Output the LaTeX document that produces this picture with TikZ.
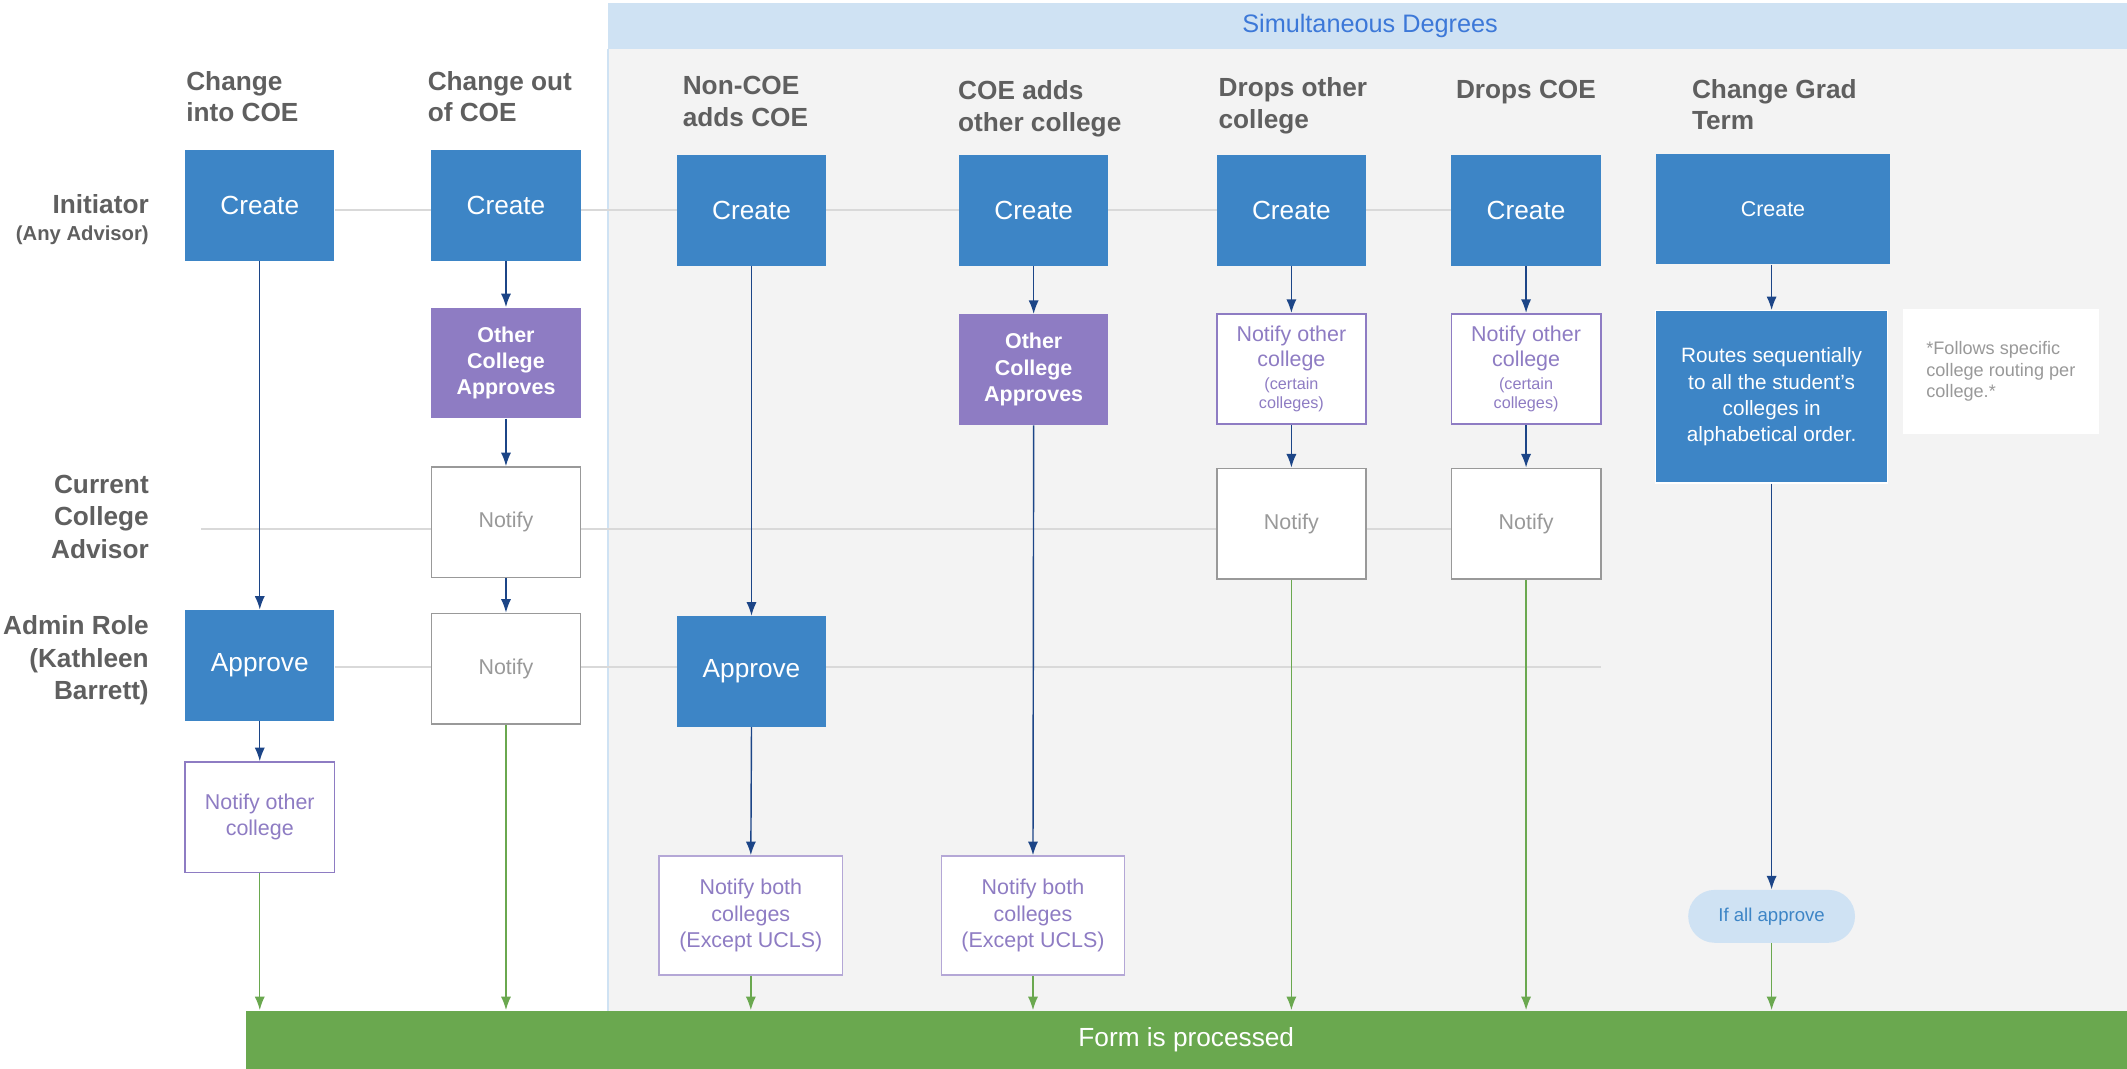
\documentclass[tikz,border=0pt]{standalone}
\usepackage{fontspec}
\setmainfont{Liberation Sans}
\usetikzlibrary{arrows.meta,backgrounds}

\definecolor{boxBlue}{HTML}{3D85C6}
\definecolor{boxPurple}{HTML}{8E7CC3}
\definecolor{lightPurple}{HTML}{B4A7D6}
\definecolor{notifyGray}{HTML}{999999}
\definecolor{headGray}{HTML}{5F5F5F}
\definecolor{arrowBlue}{HTML}{1C4587}
\definecolor{formGreen}{HTML}{6AA84F}
\definecolor{laneGray}{HTML}{D9D9D9}
\definecolor{simGray}{HTML}{F3F3F3}
\definecolor{simBand}{HTML}{CFE2F3}
\definecolor{simText}{HTML}{3C78D8}

\newcommand{\fs}[2]{\fontsize{#1}{#2}\selectfont}

\begin{document}
\begin{tikzpicture}[x=0.02cm,y=-0.02cm,
    % 统一的方框样式
    box_base/.style={minimum width=2.2cm,minimum height=1.63cm,inner sep=2pt,align=center},
    create_box/.style={box_base,fill=boxBlue,text=white,font=\fs{11}{13}},
    college_box/.style={box_base,fill=boxPurple,text=white,font=\bfseries\fs{9}{11}},
    notify_box/.style={box_base,fill=white,draw=notifyGray,line width=0.7pt,text=notifyGray,font=\fs{9}{11}},
    other_box/.style={box_base,fill=white,draw=boxPurple,line width=0.7pt,text=boxPurple,font=\fs{9}{10.8}},
    both_box/.style={other_box,draw=lightPurple,minimum width=2.7cm,minimum height=1.76cm,font=\fs{9}{11}},
    head_text/.style={anchor=north west,inner sep=0pt,align=left,text=headGray,font=\bfseries\fs{11}{13.3}},
    lane_text/.style={anchor=east,inner sep=0pt,align=right,text=headGray,font=\bfseries\fs{11}{13.6}},
    lane_line/.style={laneGray,line width=0.8pt},
    flow_arrow/.style={arrowBlue,line width=0.6pt,-{Latex[length=2mm,width=1.5mm]}},
    done_arrow/.style={formGreen,line width=0.6pt,-{Latex[length=2mm,width=1.5mm]}}
]
    \useasboundingbox (0,0) rectangle (1568,788);

    % --- 宏: 绿色箭头连到底部 ---
    \newcommand{\tobar}[1]{\draw[done_arrow] (#1.south) -- (#1.south |- bar.north);}

    % --- 泳道标题 ---
    \node[lane_text] (laneInit) at (110,162) {Initiator\\[-2.3pt]\fs{8.5}{10}(Any Advisor)};
    \node[lane_text] (laneCur) at (110,381) {Current\\College\\Advisor};
    \node[lane_text] (laneAdmin) at (110,487) {Admin Role\\(Kathleen\\Barrett)};

    % --- 列标题 ---
    \node[head_text] (hdInto) at (137,52) {Change\\into COE};
    \node[head_text] (hdOut) at (315,52) {Change out\\of COE};
    \node[head_text] (hdNon) at (503,56) {Non-COE\\adds COE};
    \node[head_text] (hdAdds) at (706,59) {COE adds\\other college};
    \node[head_text] (hdDropO) at (898,57) {Drops other\\college};
    \node[head_text] (hdDropC) at (1073,59) {Drops COE};
    \node[head_text] (hdGrad) at (1247,58) {Change Grad\\Term};

    % 1. Change into COE
    \node[create_box] (cr1) at (191.5,151.5) {Create};
    \node[create_box] (ap1) at (191.5,490.5) {Approve};
    \node[other_box] (no1) at (191.5,602.5) {Notify other\\college};

    % 2. Change out of COE
    \node[create_box] (cr2) at (373,151.5) {Create};
    \node[college_box] (oc2) at (373,267.5) {Other\\College\\Approves};
    \node[notify_box] (nt2a) at (373,385) {Notify};
    \node[notify_box] (nt2b) at (373,493) {Notify};

    % 3. Non-COE adds COE
    \node[create_box] (cr3) at (554,155) {Create};
    \node[create_box] (ap3) at (554,495) {Approve};
    \node[both_box] (nb3) at (553.5,675) {Notify both\\colleges\\(Except UCLS)};

    % 4. COE adds other college
    \node[create_box] (cr4) at (762,155) {Create};
    \node[college_box] (oc4) at (762,272.5) {Other\\College\\Approves};
    \node[both_box] (nb4) at (761.5,675) {Notify both\\colleges\\(Except UCLS)};

    % 5. Drops other college
    \node[create_box] (cr5) at (952,155) {Create};
    \node[other_box] (no5) at (952,272) {Notify other\\college\\[-1.2pt]\fs{6.8}{8}(certain\\[-2.8pt]\fs{6.8}{8}colleges)};
    \node[notify_box] (nt5) at (952,386) {Notify};

    % 6. Drops COE
    \node[create_box] (cr6) at (1125,155) {Create};
    \node[other_box] (no6) at (1125,272) {Notify other\\college\\[-1.2pt]\fs{6.8}{8}(certain\\[-2.8pt]\fs{6.8}{8}colleges)};
    \node[notify_box] (nt6) at (1125,386) {Notify};

    % 7. Change Grad Term
    \node[create_box,minimum width=3.44cm,font=\fs{9}{11}] (cr7) at (1307,154) {Create};
    \node[create_box,draw=white,line width=0.5pt,minimum width=3.42cm,minimum height=2.54cm,font=\fs{8.7}{11}] (rt7)
        at (1306,292.5) {Routes sequentially\\to all the student's\\colleges in\\alphabetical order.};
    \node[fill=white,minimum width=2.88cm,minimum height=1.84cm,align=left,text=notifyGray,font=\fs{7.6}{9}] (note7)
        at (1475,274) {*Follows specific\\college routing per\\college.*};
    \node[fill=simBand,rounded corners=0.39cm,minimum width=2.46cm,minimum height=0.78cm,text=boxBlue,font=\fs{7.8}{9}] (ok7)
        at (1306,675.5) {If all approve};

    % --- 底部 ---
    \node[fill=formGreen,minimum width=27.74cm,minimum height=0.86cm,inner sep=0pt,text=white,font=\fs{11}{13}] (bar)
        at (874.5,766.5) {Form is processed};

    % --- 箭头 ---
    \draw[flow_arrow] (cr1) -- (ap1);
    \draw[flow_arrow] (ap1) -- (no1);
    \draw[flow_arrow] (cr2) -- (oc2);
    \draw[flow_arrow] (oc2) -- (nt2a);
    \draw[flow_arrow] (nt2a) -- (nt2b);
    \draw[flow_arrow] (cr3) -- (ap3);
    \draw[flow_arrow] (ap3.south) -- (nb3.north);
    \draw[flow_arrow] (cr4) -- (oc4);
    \draw[flow_arrow] (oc4.south) -- (nb4.north);
    \draw[flow_arrow] (cr5) -- (no5);
    \draw[flow_arrow] (no5) -- (nt5);
    \draw[flow_arrow] (cr6) -- (no6);
    \draw[flow_arrow] (no6) -- (nt6);
    \draw[flow_arrow] (cr7.south -| rt7.north) -- (rt7.north);
    \draw[flow_arrow] (rt7) -- (ok7);

    \tobar{no1}
    \tobar{nt2b}
    \tobar{nb3}
    \tobar{nb4}
    \tobar{nt5}
    \tobar{nt6}
    \tobar{ok7}

    % --- 背景与泳道线 ---
    \begin{scope}[on background layer]
        \fill[simGray] (448,36) rectangle (1568,745);
        \fill[simBand] (448,2) rectangle (1568,36);
        \draw[simBand,line width=0.8pt] (448,36) -- (448,745);
        \node[text=simText,font=\fs{10.6}{12}] (simTitle) at (1010,19) {Simultaneous Degrees};
        \coordinate (curStart) at (148,390);
        \coordinate (adminEnd) at (1180,492);
        \draw[lane_line] (cr1.east |- cr6.west) -- (cr6.west);
        \draw[lane_line] (curStart) -- (curStart -| nt6.west);
        \draw[lane_line] (ap1.east |- adminEnd) -- (adminEnd);
    \end{scope}
\end{tikzpicture}
\end{document}
